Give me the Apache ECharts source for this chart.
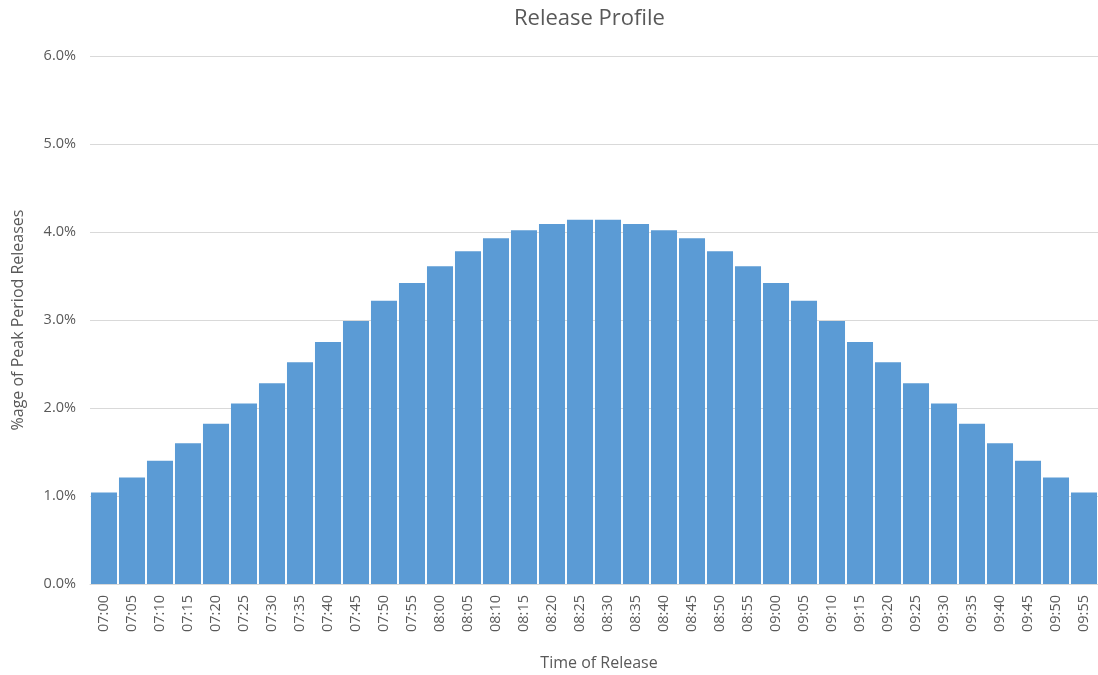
<!DOCTYPE html>
<html><head><meta charset="utf-8">
<script src="https://cdn.jsdelivr.net/npm/echarts@6/dist/echarts.min.js"></script>
<style>html,body{margin:0;padding:0;background:#fff}#c{width:1098px;height:675px}</style>
</head><body><div id="c"></div>
<script>
const categories = ["07:00","07:05","07:10","07:15","07:20","07:25","07:30","07:35","07:40","07:45","07:50","07:55",
"08:00","08:05","08:10","08:15","08:20","08:25","08:30","08:35","08:40","08:45","08:50","08:55",
"09:00","09:05","09:10","09:15","09:20","09:25","09:30","09:35","09:40","09:45","09:50","09:55"];
const releasePct = [1.04,1.21,1.40,1.60,1.82,2.05,2.28,2.52,2.75,2.99,3.22,3.42,
3.61,3.78,3.93,4.02,4.09,4.14,4.14,4.09,4.02,3.93,3.78,3.61,
3.42,3.22,2.99,2.75,2.52,2.28,2.05,1.82,1.60,1.40,1.21,1.04];
const yTicks = [0,1,2,3,4,5,6];

const font = "'Open Sans', 'Noto Sans', sans-serif";
const chart = echarts.init(document.getElementById('c'));
chart.setOption({
  animation:false,
  title:{text:'Release Profile',left:509,top:3,textStyle:{fontFamily:font,fontSize:22,fontWeight:'normal',color:'#595959'}},
  grid:{left:90,right:0,top:56,bottom:91,outerBoundsMode:'none',containLabel:false},
  xAxis:{type:'category',data:categories,
    name:'Time of Release',nameLocation:'middle',nameGap:71,
    nameTextStyle:{fontFamily:font,fontSize:16,color:'#595959',padding:[0,0,0,10]},
    axisTick:{show:false},
    axisLine:{lineStyle:{color:'#d9d9d9'}},
    axisLabel:{rotate:90,interval:0,fontFamily:font,fontSize:14.5,color:'#595959',margin:11}},
  yAxis:{type:'value',min:yTicks[0],max:yTicks[yTicks.length-1],interval:1,
    name:'%age of Peak Period Releases',nameLocation:'middle',nameGap:64,
    nameTextStyle:{fontFamily:font,fontSize:16,color:'#595959'},
    axisLine:{show:false},axisTick:{show:false},
    splitLine:{lineStyle:{color:'#d9d9d9'}},
    axisLabel:{fontFamily:font,fontSize:14.5,color:'#595959',margin:14,formatter:v=>v.toFixed(1)+'%'}},
  series:[{type:'bar',data:releasePct,barCategoryGap:'7%',
    itemStyle:{color:'#5B9BD5'}}]
});
</script></body></html>
